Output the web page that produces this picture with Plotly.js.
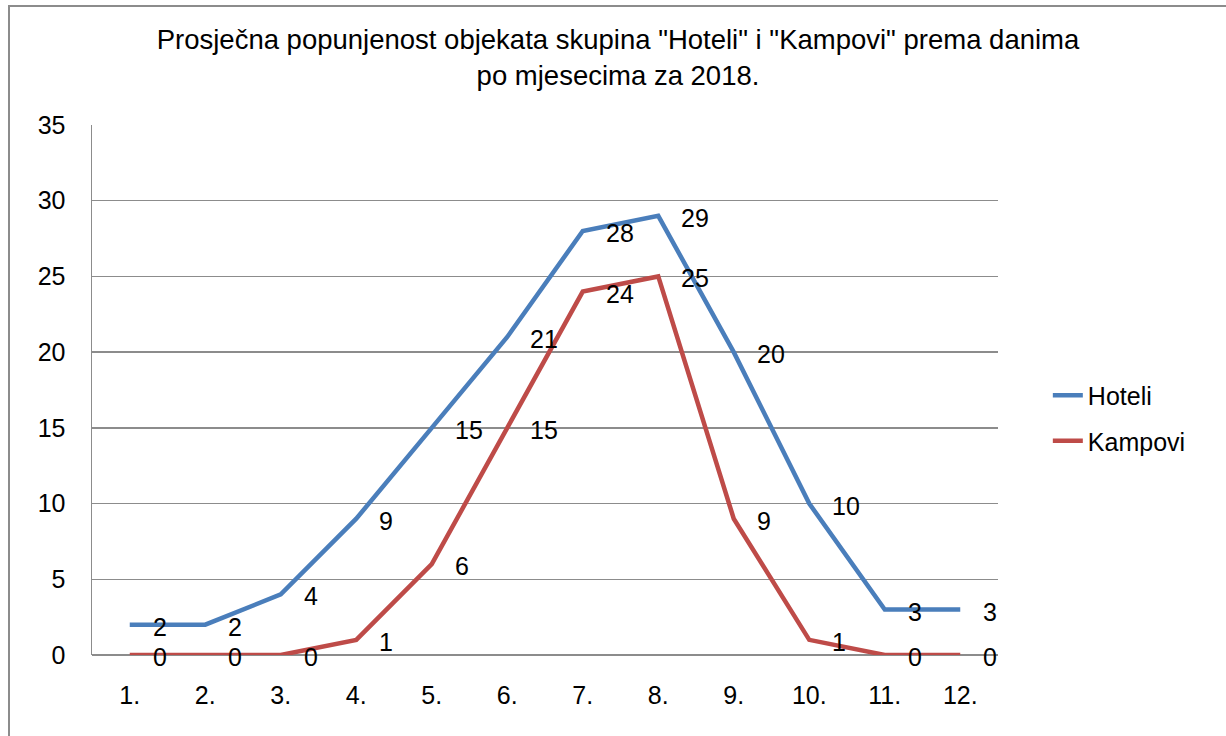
<!DOCTYPE html>
<html>
<head>
<meta charset="utf-8">
<script src="https://cdn.plot.ly/plotly-3.0.1.min.js"></script>
<style>html,body{margin:0;padding:0;background:#fff;}#chart{width:1226px;height:736px;}</style>
</head>
<body>
<div id="chart"></div>
<script>
var months = ["1.", "2.", "3.", "4.", "5.", "6.", "7.", "8.", "9.", "10.", "11.", "12."];
var hoteli = [2, 2, 4, 9, 15, 21, 28, 29, 20, 10, 3, 3];
var kampovi = [0, 0, 0, 1, 6, 15, 24, 25, 9, 1, 0, 0];
var yTicks = [0, 5, 10, 15, 20, 25, 30, 35];

var FONT = "Liberation Sans, Arial, sans-serif";

var traces = [
  {x: months, y: hoteli, name: "Hoteli", type: "scatter", mode: "lines",
   line: {color: "#4a7ebb", width: 4.5}, legendgroup: "h", hoverinfo: "skip"},
  {x: months, y: kampovi, name: "Kampovi", type: "scatter", mode: "lines",
   line: {color: "#be4b48", width: 4.5}, legendgroup: "k", hoverinfo: "skip"}
];

var annotations = [];
function addLabels(vals) {
  vals.forEach(function (v, i) {
    annotations.push({x: i, y: v, xref: "x", yref: "y", text: String(v),
      showarrow: false, xanchor: "left", yanchor: "middle", xshift: 21, yshift: -2,
      font: {family: FONT, size: 25, color: "#000"}});
  });
}
addLabels(hoteli);
addLabels(kampovi);

var layout = {
  width: 1226, height: 736,
  paper_bgcolor: "#fff", plot_bgcolor: "#fff",
  margin: {l: 92, r: 228, t: 125, b: 81, pad: 0},
  font: {family: FONT, size: 25, color: "#000"},
  title: {
    text: "Prosječna popunjenost objekata skupina \"Hoteli\" i \"Kampovi\" prema danima<br>po mjesecima za 2018.",
    font: {family: FONT, size: 27.5, color: "#000"},
    x: 618 / 1226, xref: "container", xanchor: "center",
    y: 1 - 49 / 736, yref: "container", yanchor: "top"
  },
  xaxis: {
    type: "category", range: [-0.5, 11.5], showgrid: false, zeroline: false,
    showline: false, ticks: "outside", ticklen: 18, tickcolor: "rgba(0,0,0,0)",
    tickfont: {family: FONT, size: 25, color: "#000"}, fixedrange: true
  },
  yaxis: {
    range: [0, 35], tickvals: yTicks, ticktext: yTicks.map(String),
    showgrid: true, gridcolor: "#8c8c8c", gridwidth: 1.5,
    zeroline: true, zerolinecolor: "#8c8c8c", zerolinewidth: 1.5,
    showline: true, linecolor: "#8c8c8c", linewidth: 1.5, mirror: false,
    ticks: "outside", ticklen: 20, tickcolor: "rgba(0,0,0,0)",
    tickfont: {family: FONT, size: 25, color: "#000"}, fixedrange: true
  },
  showlegend: true,
  legend: {
    x: 1.055, xanchor: "left", y: 0.447, yanchor: "middle",
    font: {family: FONT, size: 25, color: "#000"},
    traceorder: "grouped", tracegroupgap: 10, bgcolor: "rgba(0,0,0,0)"
  },
  annotations: annotations,
  shapes: [
    {type: "rect", xref: "paper", yref: "paper",
     x0: (9 - 92) / 906, x1: (1240 - 92) / 906, y0: (655 - 760) / 530, y1: (655 - 6) / 530,
     line: {color: "#8c8c8c", width: 2}, fillcolor: "rgba(0,0,0,0)"}
  ]
};

Plotly.newPlot("chart", traces, layout, {displayModeBar: false, staticPlot: true});
</script>
</body>
</html>
